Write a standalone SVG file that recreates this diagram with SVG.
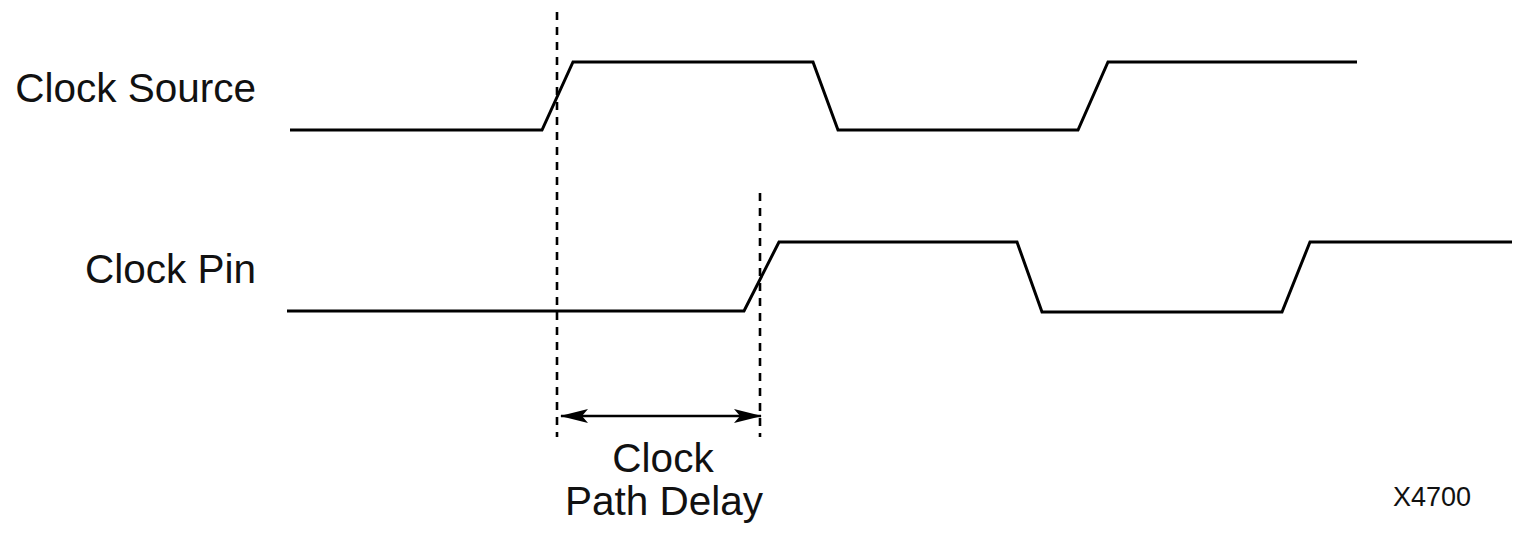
<svg xmlns="http://www.w3.org/2000/svg" width="1517" height="533" viewBox="0 0 1517 533">
<style>
.wave{fill:none;stroke:#000;stroke-width:3;stroke-linejoin:miter}
.dash{fill:none;stroke:#000;stroke-width:2.6;stroke-dasharray:8 7}
.lbl{font-family:"Liberation Sans",Arial,sans-serif;font-size:40.5px;fill:#111}
.tag{font-family:"Liberation Sans",Arial,sans-serif;font-size:27px;fill:#111}
</style>
<defs>
<marker id="ah" viewBox="0 0 28 16" refX="27" refY="8" markerWidth="28" markerHeight="16" markerUnits="userSpaceOnUse" orient="auto-start-reverse">
<path d="M0,1 L28,8 L0,15 L6,8 z" fill="#000"/>
</marker>
</defs>
<rect width="1517" height="533" fill="#fff"/>
<g id="clock-source">
<path class="wave" d="M290,130 L542,130 L573,62 L813,62 L838,130 L1078,130 L1108,62 L1357,62"/>
<text class="lbl" x="256" y="102" text-anchor="end">Clock Source</text>
</g>
<g id="clock-pin">
<path class="wave" d="M287,311 L744,311 L779,242 L1017,242 L1042,312 L1282,312 L1310,242 L1512,242"/>
<text class="lbl" x="256" y="283" text-anchor="end">Clock Pin</text>
</g>
<g id="connectors">
<line class="dash" x1="557" y1="12" x2="557" y2="437"/>
<line class="dash" x1="760" y1="193" x2="760" y2="437"/>
<line x1="561" y1="416" x2="761" y2="416" stroke="#000" stroke-width="2.4" marker-start="url(#ah)" marker-end="url(#ah)"/>
</g>
<g id="delay-label">
<text class="lbl" x="663" y="472" text-anchor="middle">Clock</text>
<text class="lbl" x="664" y="515" text-anchor="middle">Path Delay</text>
</g>
<text class="tag" x="1393" y="506">X4700</text>
</svg>
